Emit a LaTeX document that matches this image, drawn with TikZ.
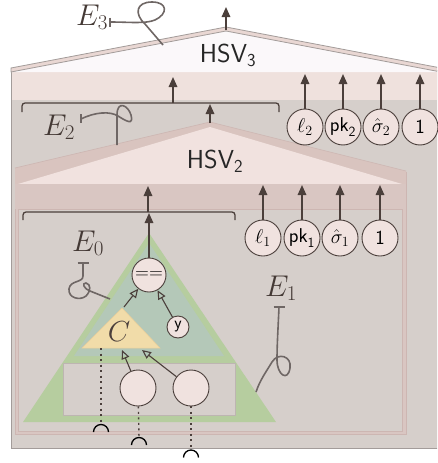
\RequirePackage{fix-cm}
\documentclass[tikz,border=0pt]{standalone}
\usetikzlibrary{arrows.meta}
\definecolor{bodygrey}{HTML}{D6CFCB}
\definecolor{bandthree}{HTML}{EFE1DD}
\definecolor{roofwhite}{HTML}{FBF8FA}
\definecolor{roofstripthree}{HTML}{E9D7D3}
\definecolor{edgegrey}{HTML}{A39C9A}
\definecolor{roofstriptwo}{HTML}{D9C4BF}
\definecolor{roofinnertwo}{HTML}{F1E2DF}
\definecolor{bandtwo}{HTML}{D9C6C2}
\definecolor{lonebord}{HTML}{CDB6B2}
\definecolor{greenfill}{HTML}{B6CD9F}
\definecolor{tealfill}{HTML}{B4C8B8}
\definecolor{yellowfill}{HTML}{F1DCA9}
\definecolor{circfill}{HTML}{F0E2DF}
\definecolor{ink}{HTML}{4B3F3B}
\definecolor{squig}{HTML}{6F6765}
\definecolor{rectbord}{HTML}{BDB5B1}
\tikzset{
  valnode/.style={circle,draw=ink,fill=circfill,line width=0.9pt,minimum size=36pt,inner sep=0pt,font=\fontsize{20}{22}\selectfont},
  smallnode/.style={circle,draw=ink,fill=circfill,line width=0.9pt,minimum size=22pt,inner sep=0pt,font=\fontsize{19}{21}\selectfont\sffamily},
  arr/.style={draw=ink,line width=1.6pt,-{Triangle[length=10pt,width=8.5pt]}},
  openarr/.style={draw=ink,line width=1.1pt,-{Triangle[open,length=9pt,width=8pt,line width=1.1pt]}},
  bracketline/.style={draw=ink,line width=1.3pt,rounded corners=3pt},
  squiggle/.style={draw=squig,line width=1.6pt},
  barend/.style={draw=squig,line width=1.6pt},
  elabel/.style={font=\fontsize{30}{33}\selectfont,text=ink!90!black,inner sep=0pt},
  hsvlabel/.style={font=\fontsize{26}{30}\selectfont\sffamily,text=black!85},
  dots/.style={draw=ink,line width=1.4pt,dash pattern=on 2pt off 3.5pt},
  cap arc/.style={draw=black,line width=1.3pt}
}
\begin{document}
\begin{tikzpicture}[x=1pt,y=-1pt]
\useasboundingbox (0,0) rectangle (437,463);
\begin{scope}
\clip (0,0) rectangle (437,463);
% ---------- level 3 ----------
\filldraw[fill=bodygrey,draw=edgegrey,line width=1pt] (11,70) rectangle (445,448);
\fill[bandthree] (12,72) rectangle (445,100);
\fill[roofwhite] (11,72) -- (226,31) -- (441,72) -- cycle;
\filldraw[fill=roofstripthree,draw=edgegrey,line width=0.8pt] (11,68) -- (226,27) -- (441,68) -- (441,72) -- (226,31) -- (11,72) -- cycle;
\coordinate (apexthree) at (226,30);
\coordinate (topthree) at (226,7);
\node[hsvlabel] (hsvthree) at (228,55) {HSV$_{\mathsf{3}}$};
% ---------- level 2 ----------
\filldraw[fill=bandtwo,draw=lonebord,line width=0.8pt] (15,172) rectangle (406,434);
\fill[roofstriptwo] (15,168) -- (210,122) -- (406,171) -- (406,184) -- (15,184) -- cycle;
\fill[roofinnertwo] (18,184) -- (210,127) -- (402,184) -- cycle;
\draw[lonebord,line width=0.6pt] (15,168) -- (210,122) -- (406,171);
\coordinate (apextwo) at (210,123);
\coordinate (toptwo) at (210,104);
\node[hsvlabel] (hsvtwo) at (215,161) {HSV$_{\mathsf{2}}$};
\fill[bandtwo] (15,184) rectangle (406,209);
% ---------- level 1 box ----------
\filldraw[fill=bodygrey,draw=lonebord,line width=1pt] (18,209) rectangle (402,431);
\end{scope}
% brackets
\draw[bracketline] (22,112) -- (22,103) -- (279,103) -- (279,112);
\coordinate (brthree) at (173,103);
\coordinate (brthreetip) at (173,77);
\draw[bracketline] (23,220) -- (23,212) -- (235,212) -- (235,220);
\coordinate (brtwo) at (148,212);
\coordinate (brtwotip) at (148,186);
\draw[arr] (brthree) -- (brthreetip);
\draw[arr] (brtwo) -- (brtwotip);
\draw[arr] (apextwo) -- (toptwo);
\draw[arr] (apexthree) -- (topthree);
% level-2 outputs
\node[valnode] (ltwo) at (305,127) {$\ell_2$};
\node[valnode] (pktwo) at (343,127) {$\mathsf{pk}_{\mathsf{2}}$};
\node[valnode] (sigtwo) at (381,127) {$\hat\sigma_2$};
\node[valnode] (onetwo) at (420,127) {\sffamily 1};
\foreach \n/\x in {ltwo/305,pktwo/343,sigtwo/381,onetwo/420}{
  \coordinate (\n t) at (\x,74);
  \draw[arr] (\n) -- (\n t);
}
% level-1 outputs
\node[valnode] (lone) at (263,238) {$\ell_1$};
\node[valnode] (pkone) at (302,238) {$\mathsf{pk}_{\mathsf{1}}$};
\node[valnode] (sigone) at (340,238) {$\hat\sigma_1$};
\node[valnode] (oneone) at (380,238) {\sffamily 1};
\foreach \n/\x in {lone/263,pkone/302,sigone/340,oneone/380}{
  \coordinate (\n t) at (\x,185);
  \draw[arr] (\n) -- (\n t);
}
% ---------- level 1 content ----------
\fill[greenfill] (149,233) -- (276,422) -- (23,422) -- cycle;
\fill[tealfill] (149,243) -- (224,356) -- (74,356) -- cycle;
\filldraw[fill=bodygrey,draw=rectbord,line width=0.8pt] (63,363) rectangle (235,415);
\filldraw[fill=yellowfill,draw=yellowfill!85!brown,line width=0.5pt] (122,308) -- (160,348) -- (82,348) -- cycle;
\node[font=\fontsize{29}{32}\selectfont,text=ink] (C) at (119,332) {$C$};
\coordinate (Ctop) at (124,307);
\coordinate (Cbone) at (122,350);
\coordinate (Cbtwo) at (142,350);
\coordinate (Cdot) at (101,348);
\node[smallnode,minimum size=34pt] (eq) at (149,275) {==};
\node[smallnode,font=\fontsize{17}{19}\selectfont\sffamily] (yv) at (178,327) {y};
\node[smallnode,minimum size=36pt] (inone) at (138,388) {};
\node[smallnode,minimum size=36pt] (intwo) at (191,388) {};
\coordinate (eqtip) at (149,213);
\draw[arr] (eq) -- (eqtip);
\draw[openarr] (Ctop) -- (eq);
\draw[openarr] (yv) -- (eq);
\draw[openarr] (inone) -- (Cbone);
\draw[openarr] (intwo) -- (Cbtwo);
% dotted wires with caps
\coordinate (capone) at (101,424.5);
\coordinate (captwo) at (139,437.5);
\coordinate (capthree) at (191,450);
\draw[dots] (Cdot) -- (capone);
\draw[dots] (inone) -- (captwo);
\draw[dots] (intwo) -- (capthree);
\foreach \c in {capone,captwo,capthree}{
  \draw[cap arc] (\c) arc[start angle=90,end angle=180,radius=7.5pt];
  \draw[cap arc] (\c) arc[start angle=90,end angle=0,radius=7.5pt];
}
% ---------- E labels with squiggles ----------
\node[elabel] (Ethree) at (92,17) {$E_3$};
\draw[barend] (110,17.5) -- (110,26.5);
\draw[squiggle] (110,22) .. controls (130,22) and (145,24) .. (155,20) .. controls (168,14) and (168,2) .. (152,2) .. controls (136,2) and (134,14) .. (145,24) -- (163,45);
\node[elabel] (Etwo) at (59,127) {$E_2$};
\draw[barend] (81,114) -- (81,123);
\draw[squiggle] (81,119) .. controls (95,112) and (110,111) .. (118,116) .. controls (126,121) and (134,126) .. (131,115) .. controls (128,105) and (117,100) .. (117,115) -- (117,145);
\node[elabel] (Ezero) at (88,243) {$E_0$};
\draw[barend] (77.5,263) -- (88.5,263);
\draw[squiggle] (83,263) -- (83,276) .. controls (83,283) and (70,280) .. (69,289) .. controls (68,298) and (80,301) .. (86,296) .. controls (91,291) and (91,284) .. (86,283) .. controls (82,283) and (83,288) .. (90,291) -- (110,299);
\node[elabel] (Eone) at (281,288) {$E_1$};
\draw[barend] (273.5,307) -- (284.5,307);
\draw[squiggle] (279,307) .. controls (278,330) and (277,345) .. (277,360) .. controls (277,375) and (288,382) .. (290,368) .. controls (292,356) and (278,352) .. (272,362) .. controls (266,372) and (260,380) .. (256,392);
\end{tikzpicture}
\end{document}
